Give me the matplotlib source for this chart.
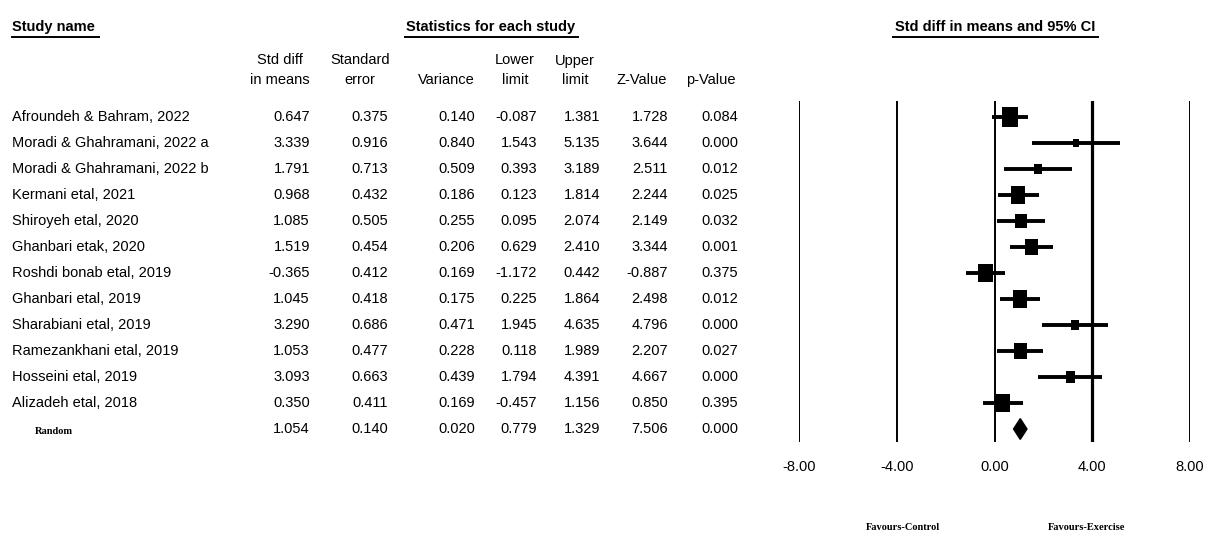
import numpy as np
import matplotlib
matplotlib.use("Agg")
import matplotlib.pyplot as plt
from matplotlib.patches import Polygon, Rectangle

plt.rcParams['font.family'] = ['Liberation Sans', 'DejaVu Sans']

studies = [
    "Afroundeh & Bahram, 2022", "Moradi & Ghahramani, 2022 a", "Moradi & Ghahramani, 2022 b",
    "Kermani etal, 2021", "Shiroyeh etal, 2020", "Ghanbari etak, 2020",
    "Roshdi bonab etal, 2019", "Ghanbari etal, 2019", "Sharabiani etal, 2019",
    "Ramezankhani etal, 2019", "Hosseini etal, 2019", "Alizadeh etal, 2018",
]
smd = [0.647, 3.339, 1.791, 0.968, 1.085, 1.519, -0.365, 1.045, 3.290, 1.053, 3.093, 0.350]
se = [0.375, 0.916, 0.713, 0.432, 0.505, 0.454, 0.412, 0.418, 0.686, 0.477, 0.663, 0.411]
variance = [0.140, 0.840, 0.509, 0.186, 0.255, 0.206, 0.169, 0.175, 0.471, 0.228, 0.439, 0.169]
lower = [-0.087, 1.543, 0.393, 0.123, 0.095, 0.629, -1.172, 0.225, 1.945, 0.118, 1.794, -0.457]
upper = [1.381, 5.135, 3.189, 1.814, 2.074, 2.410, 0.442, 1.864, 4.635, 1.989, 4.391, 1.156]
zval = [1.728, 3.644, 2.511, 2.244, 2.149, 3.344, -0.887, 2.498, 4.796, 2.207, 4.667, 0.850]
pval = [0.084, 0.000, 0.012, 0.025, 0.032, 0.001, 0.375, 0.012, 0.000, 0.027, 0.000, 0.395]

pooled = {"smd": 1.054, "se": 0.140, "var": 0.020, "lower": 0.779, "upper": 1.329,
          "z": 7.506, "p": 0.000}

axis_ticks = [-8, -4, 0, 4, 8]

W, H = 1208, 541
fig = plt.figure(figsize=(W / 100, H / 100), dpi=100)

# pixel-space overlay for the table part
tab = fig.add_axes([0, 0, 1, 1])
tab.set_xlim(0, W)
tab.set_ylim(H, 0)
tab.axis('off')

row0, step = 117, 26.0
fs = 10.5

def row_y(i):
    return row0 + step * i

# section headers, underlined
def underlined(x, y, s, x0, x1, ha='left'):
    tab.text(x, y, s, fontsize=fs, fontweight='bold', ha=ha, va='center')
    tab.plot([x0, x1], [y + 10, y + 10], color='black', lw=1.4)

underlined(12, 27, "Study name", 12, 99)
underlined(491, 27, "Statistics for each study", 405, 578, ha='center')
underlined(995, 27, "Std diff in means and 95% CI", 893, 1098, ha='center')

# column headers
col_right = [310, 388, 475, 537, 600, 668, 738]
headers = ["Std diff\nin means", "Standard\nerror", "Variance", "Lower\nlimit",
           "Upper\nlimit", "Z-Value", "p-Value"]
head_right = [310, 390, 475, 535, 595, 667, 736]
for xr, h in zip(head_right, headers):
    tab.text(xr, 87, h, fontsize=fs, ha='right', va='bottom', multialignment='center',
             linespacing=1.5)

columns = [smd, se, variance, lower, upper, zval, pval]
for i, name in enumerate(studies):
    y = row_y(i)
    tab.text(12, y, name, fontsize=fs, ha='left', va='center')
    for xr, col in zip(col_right, columns):
        tab.text(xr, y, f"{col[i]:.3f}", fontsize=fs, ha='right', va='center')

yr = row_y(len(studies))
tab.text(35, yr + 2, "Random", fontsize=7.5, fontweight='bold',
         family='Liberation Serif', ha='left', va='center')
for xr, key in zip(col_right, ["smd", "se", "var", "lower", "upper", "z", "p"]):
    tab.text(xr, yr, f"{pooled[key]:.3f}", fontsize=fs, ha='right', va='center')

# forest plot axes
x_left, x_right = 799, 1190
y_top, y_bot = 101, 442
ax = fig.add_axes([x_left / W, 1 - y_bot / H, (x_right - x_left) / W, (y_bot - y_top) / H])
ax.set_xlim(-8, 8)
ax.set_ylim((y_bot - row0) / step, (y_top - row0) / step)
ax.axis('off')

px_per_unit = (x_right - x_left) / 16.0

for t in axis_ticks:
    ax.axvline(t, color='black', lw=2.3 if t == 4 else 1.4)
    ax.text(t, (467 - row0) / step, f"{t:.2f}", fontsize=fs, ha='center', va='center',
            clip_on=False)

for i in range(len(studies)):
    ax.plot([lower[i], upper[i]], [i, i], color='black', lw=2.8, solid_capstyle='butt')
    # box size grows with study precision
    w_px = 6.0 / se[i]
    h_px = 1.25 * w_px
    w = w_px / px_per_unit
    h = h_px / step
    ax.add_patch(Rectangle((smd[i] - w / 2, i - h / 2), w, h, facecolor='black',
                           edgecolor='none'))

n = len(studies)
dia = Polygon([[pooled["lower"], n], [pooled["smd"], n - 0.4],
               [pooled["upper"], n], [pooled["smd"], n + 0.4]],
              closed=True, facecolor='black', edgecolor='black')
ax.add_patch(dia)

tab.text(903, 527, "Favours-Control", fontsize=7.5, fontweight='bold',
         family='Liberation Serif', ha='center', va='center')
tab.text(1087, 528, "Favours-Exercise", fontsize=7.5, fontweight='bold',
         family='Liberation Serif', ha='center', va='center')

fig.savefig("out.png", dpi=100)
